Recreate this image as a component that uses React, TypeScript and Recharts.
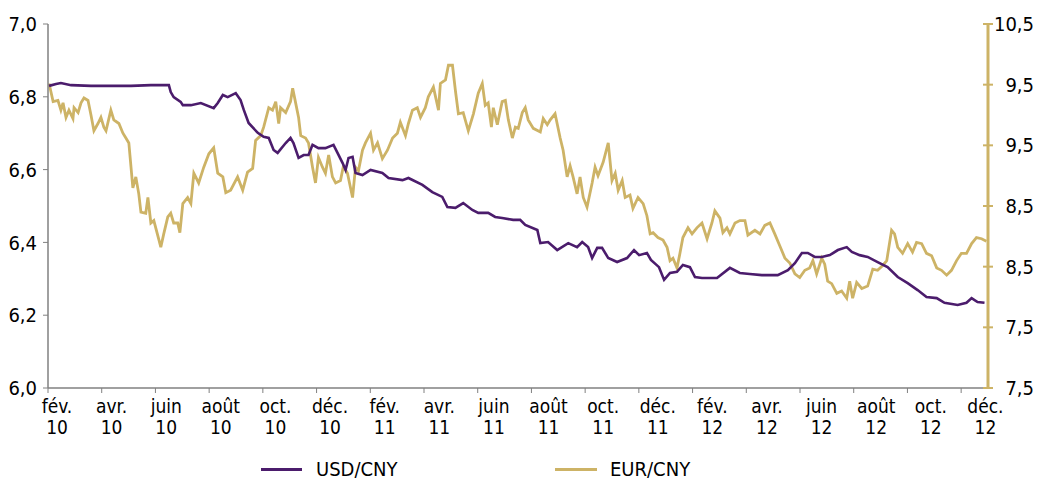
import React from 'react';
import { LineChart, Line, XAxis, YAxis } from 'recharts';

// time in months since 1 Feb 2010
const usdMonths = [0.04,0.30,0.48,0.86,1.60,2.34,3.09,3.83,4.50,4.57,4.68,4.94,5.02,5.32,5.69,6.17,6.32,6.51,6.69,6.99,7.17,7.29,7.47,7.81,8.03,8.22,8.40,8.55,8.85,9.03,9.14,9.33,9.52,9.70,9.85,10.07,10.33,10.63,10.78,10.97,11.08,11.19,11.34,11.45,11.71,12.01,12.45,12.68,13.20,13.42,13.94,14.31,14.68,14.87,15.17,15.46,15.80,16.02,16.39,16.65,16.91,17.32,17.58,17.77,18.22,18.33,18.62,18.96,19.37,19.70,19.89,20.11,20.26,20.45,20.63,20.86,21.19,21.56,21.82,22.01,22.30,22.45,22.75,22.94,23.16,23.42,23.64,23.90,24.09,24.35,24.91,25.39,25.76,26.13,26.58,27.17,27.55,27.81,28.07,28.29,28.55,28.81,29.11,29.41,29.74,29.93,30.22,30.52,30.89,31.26,31.64,32.01,32.38,32.71,33.09,33.38,33.87,34.20,34.39,34.61,34.87];
const usdRates = [6.830,6.835,6.838,6.832,6.830,6.830,6.830,6.832,6.832,6.813,6.799,6.786,6.777,6.777,6.783,6.769,6.783,6.805,6.799,6.810,6.791,6.764,6.728,6.701,6.690,6.687,6.654,6.646,6.673,6.687,6.673,6.632,6.640,6.640,6.668,6.659,6.659,6.668,6.646,6.618,6.599,6.632,6.635,6.591,6.585,6.599,6.591,6.577,6.571,6.577,6.558,6.538,6.525,6.497,6.495,6.508,6.489,6.481,6.481,6.470,6.467,6.462,6.462,6.448,6.434,6.398,6.401,6.379,6.398,6.387,6.401,6.387,6.357,6.385,6.385,6.357,6.346,6.357,6.379,6.365,6.371,6.352,6.332,6.297,6.316,6.319,6.338,6.332,6.305,6.302,6.302,6.330,6.316,6.313,6.310,6.310,6.324,6.343,6.371,6.371,6.360,6.360,6.365,6.379,6.387,6.374,6.365,6.360,6.346,6.332,6.305,6.288,6.269,6.250,6.247,6.234,6.228,6.234,6.247,6.236,6.234];

const eurMonths = [0.04,0.19,0.37,0.48,0.56,0.67,0.78,0.93,0.97,1.12,1.23,1.34,1.49,1.60,1.71,1.86,1.97,2.08,2.16,2.34,2.45,2.64,2.79,2.90,3.01,3.16,3.27,3.38,3.46,3.64,3.72,3.83,3.94,4.13,4.20,4.31,4.46,4.57,4.68,4.83,4.91,5.02,5.20,5.32,5.43,5.61,5.80,5.99,6.17,6.32,6.51,6.62,6.80,7.06,7.25,7.43,7.62,7.73,7.92,8.03,8.22,8.36,8.48,8.59,8.66,8.85,9.03,9.11,9.22,9.33,9.41,9.59,9.70,9.85,9.96,10.07,10.22,10.33,10.45,10.59,10.71,10.89,11.00,11.15,11.34,11.45,11.56,11.71,11.82,12.01,12.12,12.27,12.45,12.64,12.83,13.01,13.12,13.31,13.42,13.57,13.75,13.87,14.05,14.16,14.35,14.54,14.61,14.80,14.91,15.06,15.17,15.28,15.46,15.65,15.84,16.02,16.17,16.28,16.39,16.51,16.58,16.73,16.91,17.03,17.14,17.29,17.40,17.51,17.66,17.77,17.88,18.07,18.33,18.44,18.59,18.70,18.88,19.07,19.18,19.33,19.44,19.55,19.70,19.81,19.93,20.07,20.26,20.37,20.48,20.67,20.86,21.00,21.12,21.23,21.38,21.49,21.67,21.78,21.97,22.16,22.30,22.42,22.53,22.71,22.90,23.05,23.16,23.27,23.42,23.53,23.64,23.83,23.98,24.16,24.35,24.54,24.72,24.83,25.02,25.13,25.28,25.39,25.58,25.76,25.95,26.06,26.32,26.51,26.69,26.88,27.06,27.25,27.44,27.62,27.81,27.99,28.18,28.36,28.48,28.62,28.81,28.92,29.03,29.18,29.37,29.55,29.74,29.85,29.96,30.11,30.30,30.52,30.71,30.89,31.08,31.23,31.41,31.52,31.64,31.82,32.01,32.19,32.34,32.53,32.71,32.90,33.09,33.27,33.46,33.64,33.83,34.01,34.20,34.39,34.57,34.76,34.94];
const eurRates = [10.01,9.86,9.87,9.79,9.85,9.73,9.79,9.72,9.81,9.77,9.85,9.89,9.87,9.75,9.62,9.68,9.73,9.65,9.62,9.79,9.71,9.68,9.60,9.56,9.52,9.15,9.24,9.10,8.95,8.94,9.07,8.86,8.88,8.72,8.66,8.77,8.91,8.94,8.86,8.86,8.78,9.02,9.07,9.02,9.27,9.19,9.32,9.43,9.48,9.27,9.24,9.11,9.13,9.24,9.13,9.28,9.31,9.54,9.58,9.65,9.81,9.79,9.86,9.68,9.81,9.77,9.86,9.97,9.85,9.73,9.58,9.56,9.52,9.32,9.19,9.40,9.32,9.27,9.42,9.24,9.19,9.21,9.33,9.27,9.07,9.32,9.29,9.46,9.52,9.60,9.46,9.52,9.39,9.46,9.56,9.60,9.69,9.58,9.68,9.79,9.81,9.73,9.81,9.90,9.98,9.79,10.01,10.04,10.16,10.16,9.95,9.76,9.77,9.62,9.76,9.93,10.01,9.83,9.85,9.65,9.81,9.67,9.86,9.87,9.71,9.56,9.65,9.64,9.77,9.81,9.71,9.64,9.61,9.72,9.67,9.71,9.76,9.56,9.46,9.24,9.33,9.24,9.10,9.24,9.07,8.99,9.19,9.32,9.25,9.36,9.52,9.21,9.27,9.13,9.21,9.07,9.09,8.98,9.07,9.02,8.92,8.77,8.78,8.74,8.72,8.66,8.55,8.57,8.49,8.61,8.74,8.82,8.77,8.82,8.86,8.73,8.86,8.96,8.90,8.78,8.82,8.77,8.86,8.88,8.88,8.76,8.80,8.77,8.84,8.86,8.77,8.67,8.57,8.53,8.44,8.41,8.47,8.49,8.55,8.44,8.57,8.52,8.38,8.36,8.28,8.30,8.24,8.38,8.24,8.37,8.32,8.34,8.48,8.47,8.51,8.55,8.80,8.77,8.66,8.61,8.69,8.62,8.70,8.69,8.61,8.59,8.49,8.47,8.43,8.47,8.55,8.61,8.61,8.69,8.74,8.73,8.71];

const monthTicks = [0,2,4,6,8,10,12,14,16,18,20,22,24,26,28,30,32,34];
const monthLabels = ['fév.','avr.','juin','août','oct.','déc.','fév.','avr.','juin','août','oct.','déc.','fév.','avr.','juin','août','oct.','déc.'];
const yearLabels = ['10','10','10','10','10','10','11','11','11','11','11','11','12','12','12','12','12','12'];
const leftTicks = [6.0, 6.2, 6.4, 6.6, 6.8, 7.0];
const rightTicks = [7.5, 8, 8.5, 9, 9.5, 10, 10.5];
const rightTickLabels = ['7,5','7,5','8,5','8,5','9,5','9,5','10,5'];
const seriesNames = ['USD/CNY', 'EUR/CNY'];

const usdData = usdMonths.map((m, i) => ({ m, usd: usdRates[i] }));
const eurData = eurMonths.map((m, i) => ({ m, eur: eurRates[i] }));

const PURPLE = '#4b1c6c';
const GOLD = '#cdb366';
const GRAY = '#808080';
const FONT = "'Liberation Sans Narrow', 'DejaVu Sans Condensed', 'Arial Narrow', sans-serif";

const XTick = (props: any) => {
  const { x, y, payload } = props;
  const i = monthTicks.indexOf(payload.value);
  const cx = x + 9 + 0.45 * payload.value;
  return (
    <g>
      <text x={cx} y={y} textAnchor="middle" fontSize={19} fontFamily={FONT} fill="#000">
        <tspan x={cx} dy={20}>{monthLabels[i]}</tspan>
        <tspan x={cx} dy={21}>{yearLabels[i]}</tspan>
      </text>
    </g>
  );
};

const RightTick = (props: any) => {
  const { x, y, payload } = props;
  const i = rightTicks.indexOf(payload.value);
  return (
    <g>
      <line x1={x - 5} x2={x + 5} y1={y} y2={y} stroke={GOLD} strokeWidth={2} />
      <text x={x + 46} y={y} dy={7} textAnchor="end" fontSize={20} fontFamily={FONT} fill="#000">
        {rightTickLabels[i]}
      </text>
    </g>
  );
};

const legendRow: React.CSSProperties = {
  position: 'absolute',
  top: 459,
  display: 'flex',
  alignItems: 'center',
  fontFamily: FONT,
  fontSize: 20,
  color: '#000',
  lineHeight: '20px',
  height: 20,
};

export default function App() {
  return (
    <div style={{ position: 'absolute', left: 0, top: 0, width: 1038, height: 480, background: '#fff', overflow: 'hidden' }}>
      <LineChart width={1038} height={480} margin={{ top: 24, right: 0, bottom: 32, left: 0 }}>
        <XAxis
          dataKey="m"
          type="number"
          domain={[0, 35]}
          ticks={monthTicks}
          allowDataOverflow
          interval={0}
          axisLine={{ stroke: GRAY, strokeWidth: 1.5 }}
          tickLine={{ stroke: GRAY }}
          tickSize={5}
          tickMargin={0}
          height={60}
          tick={<XTick />}
        />
        <YAxis
          yAxisId="left"
          orientation="left"
          domain={[6, 7]}
          ticks={leftTicks}
          width={48}
          axisLine={{ stroke: GRAY, strokeWidth: 1.5 }}
          tickLine={{ stroke: GRAY }}
          tickSize={5}
          tickMargin={6}
          interval={0}
          tickFormatter={(v: number) => v.toFixed(1).replace('.', ',')}
          tick={{ fontSize: 20, fontFamily: FONT, fill: '#000' }}
        />
        <YAxis
          yAxisId="right"
          orientation="right"
          domain={[7.5, 10.5]}
          ticks={rightTicks}
          width={50}
          axisLine={{ stroke: GOLD, strokeWidth: 3 }}
          tickLine={false}
          tickSize={0}
          tickMargin={0}
          interval={0}
          tick={<RightTick />}
        />
        <Line
          yAxisId="right"
          data={eurData}
          dataKey="eur"
          name={seriesNames[1]}
          stroke={GOLD}
          strokeWidth={2.8}
          dot={false}
          isAnimationActive={false}
        />
        <Line
          yAxisId="left"
          data={usdData}
          dataKey="usd"
          name={seriesNames[0]}
          stroke={PURPLE}
          strokeWidth={2.6}
          dot={false}
          isAnimationActive={false}
        />
      </LineChart>
      <div style={{ ...legendRow, left: 261 }}>
        <span style={{ display: 'inline-block', width: 41, height: 3, background: PURPLE, marginRight: 14 }} />
        <span>{seriesNames[0]}</span>
      </div>
      <div style={{ ...legendRow, left: 555 }}>
        <span style={{ display: 'inline-block', width: 42, height: 3, background: GOLD, marginRight: 13 }} />
        <span>{seriesNames[1]}</span>
      </div>
    </div>
  );
}
